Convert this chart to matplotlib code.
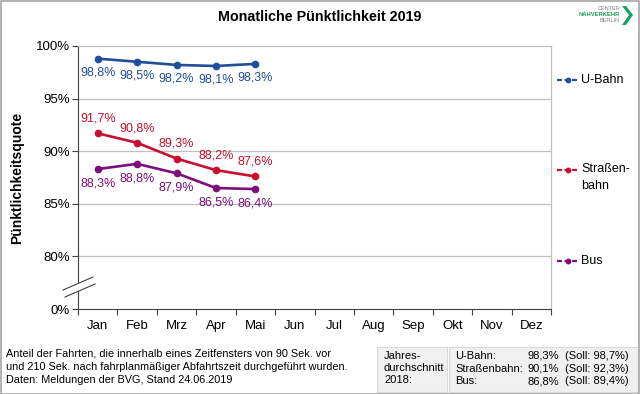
import matplotlib.pyplot as plt
from matplotlib.lines import Line2D
from matplotlib.patches import Rectangle, Polygon

plt.rcParams['font.family'] = ['Liberation Sans', 'DejaVu Sans']

# --- Daten ---
monate = ["Jan", "Feb", "Mrz", "Apr", "Mai", "Jun", "Jul", "Aug", "Sep", "Okt", "Nov", "Dez"]
ubahn = [98.8, 98.5, 98.2, 98.1, 98.3]
strab = [91.7, 90.8, 89.3, 88.2, 87.6]
bus = [88.3, 88.8, 87.9, 86.5, 86.4]
ytick_werte = [75, 80, 85, 90, 95, 100]   # 75 steht fuer 0% (Achsenbruch)
ytick_labels = ["0%", "80%", "85%", "90%", "95%", "100%"]

C_UBAHN = "#1F4E9A"
C_STRAB = "#C8102E"
C_BUS = "#7B0F7B"
GRID = "#BFBFBF"

W, H = 640, 394
fig = plt.figure(figsize=(6.4, 3.94), dpi=100)

def fx(px):
    return px / W

def fy(py):
    return 1 - py / H

ax = fig.add_axes([fx(78), fy(309), fx(551) - fx(78), fy(46) - fy(309)])
ax.set_xlim(-0.5, 11.5)
ax.set_ylim(75, 100)

for yv in [80, 85, 90, 95]:
    ax.axhline(yv, color=GRID, lw=0.9, zorder=0)

ax.set_yticks(ytick_werte)
ax.set_yticklabels(ytick_labels, fontsize=9.5)
ax.set_xticks(range(12))
ax.set_xticklabels(monate, fontsize=9.5)
ax.set_xticks([i - 0.5 for i in range(13)], minor=True)
ax.tick_params(axis='x', which='major', length=0, pad=8)
ax.tick_params(axis='x', which='minor', length=4, color="#404040", width=0.8)
ax.tick_params(axis='y', length=4, color="#404040", width=0.8, pad=2)

for s in ['top', 'right']:
    ax.spines[s].set_color(GRID)
    ax.spines[s].set_linewidth(0.9)
for s in ['left', 'bottom']:
    ax.spines[s].set_color("#404040")
    ax.spines[s].set_linewidth(0.8)

x = list(range(len(ubahn)))
serien = [
    (ubahn, C_UBAHN, -10),
    (strab, C_STRAB, 10.5),
    (bus, C_BUS, -10.5),
]
for werte, farbe, off in serien:
    ax.plot(x, werte, color=farbe, lw=1.9, marker='o', ms=4.5, zorder=3)
    for xi, v in zip(x, werte):
        ax.annotate(f"{v:.1f}%".replace(".", ","), (xi, v), xytext=(0, off),
                    textcoords='offset points', ha='center', va='center',
                    fontsize=9, color=farbe)

ax.set_ylabel("Pünktlichkeitsquote", fontsize=10, fontweight='bold', labelpad=8)

# Achsenbruch
brk = Polygon([(fx(63), fy(290)), (fx(93), fy(277)), (fx(95), fy(284)), (fx(65), fy(297))],
              closed=True, transform=fig.transFigure, facecolor='white', edgecolor='none', zorder=5)
fig.patches.append(brk)
fig.lines.append(Line2D([fx(63), fx(93)], [fy(290), fy(277)], transform=fig.transFigure,
                        color="#404040", lw=0.8, zorder=6))
fig.lines.append(Line2D([fx(65), fx(95)], [fy(297), fy(284)], transform=fig.transFigure,
                        color="#404040", lw=0.8, zorder=6))

fig.text(fx(320), fy(17), "Monatliche Pünktlichkeit 2019", ha='center', va='center',
         fontsize=10.3, fontweight='bold')

# Legende
legende = [("U-Bahn", C_UBAHN, 80), ("Straßen-\nbahn", C_STRAB, 170), ("Bus", C_BUS, 261)]
for name, farbe, py in legende:
    fig.lines.append(Line2D([fx(557), fx(579)], [fy(py), fy(py)], transform=fig.transFigure,
                            color=farbe, lw=1.6, ls=(0, (2.2, 1.2))))
    fig.lines.append(Line2D([fx(568)], [fy(py)], transform=fig.transFigure, color=farbe,
                            marker='o', ms=3.2, ls='none'))
    if "\n" in name:
        fig.text(fx(581), fy(py - 7), name, ha='left', va='top', fontsize=9, linespacing=1.5)
    else:
        fig.text(fx(581), fy(py), name, ha='left', va='center', fontsize=9)

# Fussnote
fig.text(fx(6), fy(367), "Anteil der Fahrten, die innerhalb eines Zeitfensters von 90 Sek. vor\n"
         "und 210 Sek. nach fahrplanmäßiger Abfahrtszeit durchgeführt wurden.\n"
         "Daten: Meldungen der BVG, Stand 24.06.2019",
         ha='left', va='center', fontsize=7.8, linespacing=1.4)

# Jahresdurchschnitt-Box
for x0, x1 in [(377, 447), (449, 638)]:
    fig.patches.append(Rectangle((fx(x0), fy(392)), fx(x1) - fx(x0), fy(347) - fy(392),
                                 transform=fig.transFigure, facecolor="#F0F0F0",
                                 edgecolor="#D9D9D9", lw=0.8))
fig.text(fx(384), fy(368), "Jahres-\ndurchschnitt\n2018:", ha='left', va='center',
         fontsize=8, linespacing=1.3)
zeilen = [("U-Bahn:", "98,3%", "(Soll: 98,7%)"),
          ("Straßenbahn:", "90,1%", "(Soll: 92,3%)"),
          ("Bus:", "86,8%", "(Soll: 89,4%)")]
for i, (a, b, c) in enumerate(zeilen):
    py = 356 + i * 12.5
    fig.text(fx(455), fy(py), a, ha='left', va='center', fontsize=8)
    fig.text(fx(559), fy(py), b, ha='right', va='center', fontsize=8)
    fig.text(fx(565), fy(py), c, ha='left', va='center', fontsize=8)

# Logo
GRUEN = "#1AA15B"
fig.text(fx(620), fy(9), "CENTER", ha='right', va='center', fontsize=4, color="#808080")
fig.text(fx(620), fy(15), "NAHVERKEHR", ha='right', va='center', fontsize=4.2,
         color=GRUEN, fontweight='bold')
fig.text(fx(620), fy(21), "BERLIN", ha='right', va='center', fontsize=4, color="#808080")
fig.patches.append(Polygon([(fx(622), fy(6)), (fx(626), fy(6)), (fx(633), fy(15)),
                            (fx(626), fy(25)), (fx(622), fy(25)), (fx(629), fy(15))],
                           closed=True, transform=fig.transFigure, facecolor=GRUEN,
                           edgecolor='none'))

# Rahmen
fig.patches.append(Rectangle((0.001, 0.001), 0.997, 0.997, transform=fig.transFigure,
                             facecolor='none', edgecolor="#A6A6A6", lw=1.2))

fig.savefig("out.png", dpi=100)
